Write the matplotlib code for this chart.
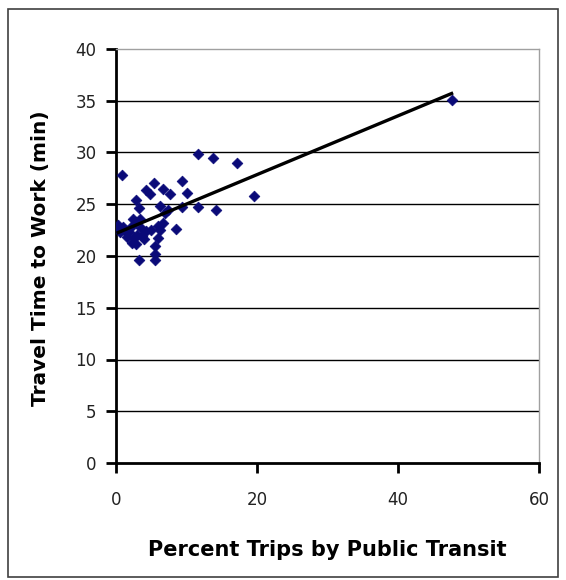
import numpy as np
import matplotlib
matplotlib.use('Agg')
import matplotlib.pyplot as plt
from matplotlib.patches import Rectangle

# percent of trips by public transit vs mean travel time to work (min)
transit_pct = [0.8, 47.6, 11.6, 13.8, 17.2, 19.6, 14.2, 11.6, 9.3, 10.0,
               5.4, 4.3, 4.8, 6.6, 7.6, 2.8, 3.2, 6.3, 7.4, 9.3,
               8.5, 0.3, 0.4, 1.0, 2.4, 2.9, 6.6, 6.3, 5.9, 5.5,
               5.6, 5.6, 3.2, 1.6, 2.2, 2.9, 3.7, 4.3, 1.9, 3.6,
               2.5, 3.0, 4.0, 1.3, 2.1, 6.0, 3.4, 5.0, 0.5, 7.0]
travel_min = [27.8, 35.1, 29.9, 29.5, 29.0, 25.8, 24.4, 24.7, 27.2, 26.1,
              27.1, 26.4, 26.0, 26.5, 26.0, 25.4, 24.6, 24.8, 24.4, 24.7,
              22.6, 23.0, 22.6, 22.8, 23.6, 23.3, 23.2, 22.5, 21.7, 21.0,
              20.2, 19.6, 19.6, 21.8, 21.3, 21.2, 21.9, 22.4, 22.3, 22.7,
              21.7, 22.0, 21.6, 22.4, 22.8, 22.9, 23.6, 22.5, 22.3, 24.2]

x_ticks = [0, 20, 40, 60]
y_ticks = [0, 5, 10, 15, 20, 25, 30, 35, 40]

x = np.array(transit_pct)
y = np.array(travel_min)

fig = plt.figure(figsize=(5.66, 5.8), dpi=100)
ax = fig.add_axes([116/566, 1-463/580, 423/566, 414/580])

# outer frame of the chart
fig.patches.append(Rectangle((8/566, 3/580), 550/566, 568/580, transform=fig.transFigure,
                             fill=False, edgecolor='#404040', linewidth=1.2))

for v in y_ticks[1:-1]:
    ax.axhline(v, color='black', linewidth=1.0, zorder=1)

ax.scatter(x, y, marker='D', s=30, color='#0a0a78', edgecolors='#0a0a78', linewidths=0.5, zorder=3)

# linear trendline over the data range
slope, intercept = np.polyfit(x, y, 1)
xs = np.array([x.min(), x.max()])
ax.plot(xs, slope*xs + intercept, color='black', linewidth=2.4, zorder=4)

ax.set_xlim(0, 60)
ax.set_ylim(0, 40)
ax.set_xticks(x_ticks)
ax.set_yticks(y_ticks)

ax.spines['left'].set_linewidth(2)
ax.spines['bottom'].set_linewidth(2)
ax.spines['top'].set_color('#a0a0a0')
ax.spines['right'].set_color('#a0a0a0')
ax.spines['top'].set_linewidth(1)
ax.spines['right'].set_linewidth(1)
ax.tick_params(axis='both', direction='out', length=7, width=2, labelsize=12, colors='black')
ax.tick_params(axis='y', pad=7)
ax.tick_params(axis='x', pad=13)
ax.tick_params(top=False, right=False)
for lab in ax.get_xticklabels() + ax.get_yticklabels():
    lab.set_color('#222222')

ax.set_xlabel('Percent Trips by Public Transit', fontsize=15, fontweight='bold')
ax.set_ylabel('Travel Time to Work (min)', fontsize=14.5, fontweight='bold')
ax.xaxis.set_label_coords(0.499, -0.186)
ax.yaxis.set_label_coords(-0.155, 0.495)

fig.savefig('out.png', dpi=100)
